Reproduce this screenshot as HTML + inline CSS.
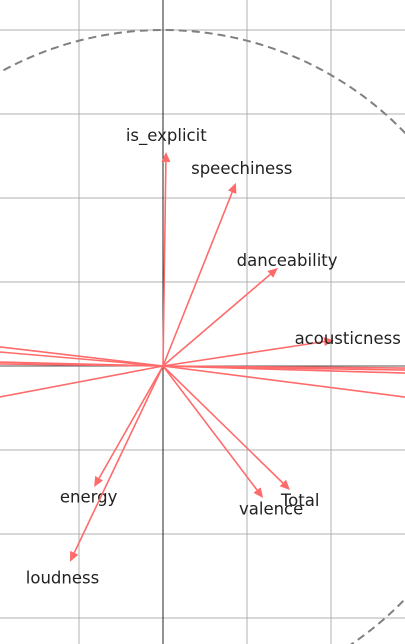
<!DOCTYPE html>
<html><head><meta charset="utf-8"><style>
html,body{margin:0;padding:0;background:#fff;width:405px;height:644px;overflow:hidden;}
svg{display:block;font-family:"DejaVu Sans","Liberation Sans",sans-serif;}
</style></head><body>
<svg id="chart" width="405" height="644" viewBox="0 0 405 644" xmlns="http://www.w3.org/2000/svg">
<defs><clipPath id="clip"><rect x="0" y="0" width="405" height="644"/></clipPath></defs>
<g clip-path="url(#clip)">
<g id="grid"></g>
<g id="axes"></g>
<g id="marks"></g>
</g>
</svg>
<script>
const features = ["is_explicit","speechiness","danceability","acousticness","Total","valence","energy","loudness","feature_a","feature_b","feature_c","feature_d","feature_e","feature_f","feature_g","feature_h","feature_i"];
const pc1 = [0.009,0.217,0.342,0.509,0.378,0.298,-0.205,-0.277,-1.2,-1.2,-1.2,-1.2,-1.2,1.2,1.2,1.2,1.2];
const pc2 = [0.637,0.545,0.292,0.077,-0.369,-0.393,-0.360,-0.583,0.14,0.103,0.029,0.015,-0.228,-0.01,-0.02,-0.035,-0.154];
const gridTicks = [-0.75,-0.5,-0.25,0,0.25,0.5,0.75,1.0];

const NS="http://www.w3.org/2000/svg";
const cx=163, cy=366, R=336;
const sx=v=>cx+v*R, sy=v=>cy-v*R;
function mk(tag,attrs,parent){const e=document.createElementNS(NS,tag);for(const k in attrs)e.setAttribute(k,attrs[k]);parent.appendChild(e);return e;}
const grid=document.getElementById('grid'), axes=document.getElementById('axes'), marks=document.getElementById('marks');

gridTicks.forEach(t=>{
  const v=mk('line',{x1:sx(t),x2:sx(t),y1:0,y2:644,stroke:'#b0b0b0','stroke-width':1},grid);
  
  
  const h=mk('line',{x1:0,x2:405,y1:sy(t),y2:sy(t),stroke:'#b0b0b0','stroke-width':1},grid);
  
  
});
const ax1=mk('line',{x1:0,x2:405,y1:cy,y2:cy,stroke:'#555','stroke-width':1},axes);


const ax2=mk('line',{x1:cx,x2:cx,y1:0,y2:644,stroke:'#000','stroke-width':0.8},axes);


const circ=mk('circle',{cx:cx,cy:cy,r:R,fill:'none',stroke:'#808080','stroke-width':2,'stroke-dasharray':'8,5'},axes);



features.forEach((f,i)=>{
  const x=sx(pc1[i]), y=sy(pc2[i]);
  const dx=x-cx, dy=y-cy, L=Math.hypot(dx,dy), ux=dx/L, uy=dy/L;
  const hl=10, hw=4.5;
  const bx=x-ux*hl, by=y-uy*hl;
  const g=mk('g',{},marks);
  
  
  mk('line',{x1:cx,y1:cy,x2:bx,y2:by,stroke:'#ff6b6b','stroke-width':1.6},g);
  mk('polygon',{points:`${x},${y} ${bx-uy*hw},${by+ux*hw} ${bx+uy*hw},${by-ux*hw}`,fill:'#ff6b6b'},g);
  const t=mk('text',{x:sx(pc1[i]*1.08),y:sy(pc2[i]*1.08)+6,'text-anchor':'middle','font-size':16.5,fill:'#222'},g);
  t.textContent=f;
  
  
});
</script>
</body></html>
